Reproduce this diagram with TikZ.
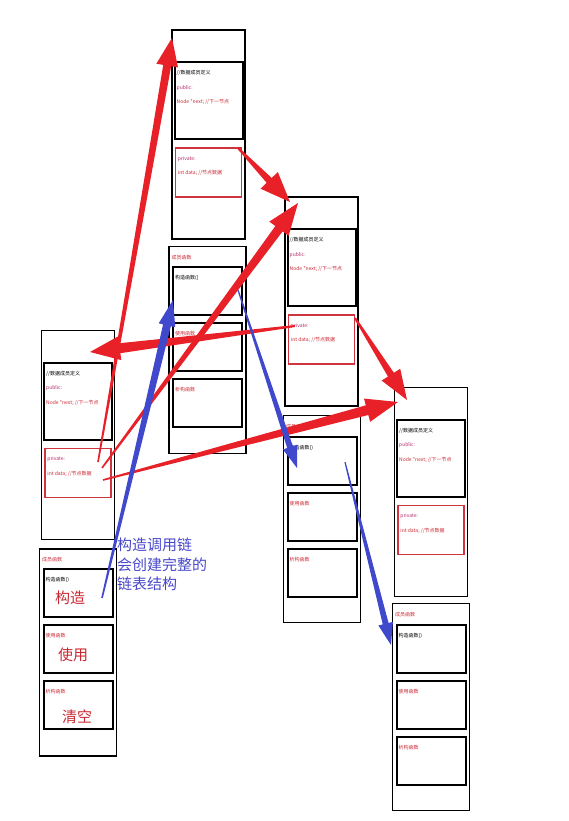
\documentclass[tikz,border=0pt]{standalone}
\usepackage{fontspec}
\setmainfont{Noto Sans CJK SC}
\usetikzlibrary{calc,positioning}
\definecolor{arrred}{RGB}{232,32,40}
\definecolor{boxred}{RGB}{208,52,62}
\definecolor{pubred}{RGB}{180,40,110}
\definecolor{txtred}{RGB}{200,40,50}
\definecolor{arrblue}{RGB}{64,72,204}
\definecolor{noteblue}{RGB}{72,72,200}
\tikzset{
  objbox/.style={rectangle, draw=black, line width=1.3pt,
    minimum width=73pt, minimum height=209pt, inner sep=0pt},
  databox/.style={rectangle, draw=black, line width=2pt,
    minimum width=68pt, minimum height=77pt, inner sep=0pt},
  privbox/.style={rectangle, draw=boxred, line width=1.5pt,
    minimum width=66pt, minimum height=49pt, inner sep=0pt},
  funbox/.style={rectangle, draw=black, line width=1.3pt,
    minimum width=77pt, minimum height=207pt, inner sep=0pt},
  fnbox/.style={rectangle, draw=black, line width=2pt,
    minimum width=69pt, minimum height=48pt, inner sep=0pt},
  tinytxt/.style={anchor=north west, inner sep=0pt, align=left,
    font=\fontsize{5}{14.5}\selectfont, xshift=3pt, yshift=-9pt},
  bigred/.style={text=txtred, inner sep=0pt, font=\fontsize{15}{18}\selectfont},
}
% tapered arrow: colour, from, to, start half width, end half width, head length, head half width
\newcommand{\tarrow}[7]{%
  \coordinate (hb) at ($(#3)!#6!(#2)$);
  \fill[#1] ($(#2)!#4!90:(#3)$) -- ($(hb)!#5!90:(#3)$) -- ($(hb)!#7!90:(#3)$) -- (#3)
    -- ($(hb)!#7!-90:(#3)$) -- ($(hb)!#5!-90:(#3)$) -- ($(#2)!#4!-90:(#3)$) -- cycle;
}
\newcommand{\pubtext}{//数据成员定义\\{\color{pubred}public:}\\{\color{txtred}Node *next; //下一节点}}
\newcommand{\privtext}{{\color{pubred}private:}\\{\color{txtred}int data; //节点数据}}

\begin{document}
\begin{tikzpicture}[x=1pt, y=-1pt]
  \useasboundingbox (0,0) rectangle (569,821);

  % objects
  \node[objbox] (objA) at (208.5,134.5) {};
    \node[databox, below=32pt of objA.north, label={[tinytxt]north west:{\pubtext}}] (pubA) {};
    \node[privbox, below=7pt of pubA, label={[tinytxt]north west:{\privtext}}] (priA) {};
  \node[objbox] (objB) at (78,435) {};
    \node[databox, below=32pt of objB.north, label={[tinytxt]north west:{\pubtext}}] (pubB) {};
    \node[privbox, below=7pt of pubB, label={[tinytxt]north west:{\privtext}}] (priB) {};
  \node[objbox] (objC) at (321.5,301.5) {};
    \node[databox, below=32pt of objC.north, label={[tinytxt]north west:{\pubtext}}] (pubC) {};
    \node[privbox, below=7pt of pubC, label={[tinytxt]north west:{\privtext}}] (priC) {};
  \node[objbox] (objD) at (431,492) {};
    \node[databox, below=32pt of objD.north, label={[tinytxt]north west:{\pubtext}}] (pubD) {};
    \node[privbox, below=7pt of pubD, label={[tinytxt]north west:{\privtext}}] (priD) {};

  % member functions
  \node[funbox, label={[tinytxt, text=txtred]north west:成员函数}] (fnA) at (207.5,350) {};
    \node[fnbox, below=20pt of fnA.north, label={[tinytxt]north west:构造函数()}] (fnA1) {};
    \node[fnbox, below=6pt of fnA1, label={[tinytxt, text=txtred]north west:使用函数}] (fnA2) {};
    \node[fnbox, below=6pt of fnA2, label={[tinytxt, text=txtred]north west:析构函数}] (fnA3) {};
  \node[funbox, label={[tinytxt, text=txtred]north west:成员函数}] (fnB) at (78,652.5) {};
    \node[fnbox, below=20pt of fnB.north, label={[tinytxt]north west:构造函数()}] (fnB1) {};
    \node[fnbox, below=6pt of fnB1, label={[tinytxt, text=txtred]north west:使用函数}] (fnB2) {};
    \node[fnbox, below=6pt of fnB2, label={[tinytxt, text=txtred]north west:析构函数}] (fnB3) {};
  \node[funbox, label={[tinytxt, text=txtred]north west:成员函数}] (fnC) at (322,519) {};
    \node[fnbox, below=21pt of fnC.north, label={[tinytxt]north west:构造函数()}] (fnC1) {};
    \node[fnbox, below=6pt of fnC1, label={[tinytxt, text=txtred]north west:使用函数}] (fnC2) {};
    \node[fnbox, below=6pt of fnC2, label={[tinytxt, text=txtred]north west:析构函数}] (fnC3) {};
  \node[funbox, label={[tinytxt, text=txtred]north west:成员函数}] (fnD) at (431,707) {};
    \node[fnbox, below=21pt of fnD.north, label={[tinytxt]north west:构造函数()}] (fnD1) {};
    \node[fnbox, below=6pt of fnD1, label={[tinytxt, text=txtred]north west:使用函数}] (fnD2) {};
    \node[fnbox, below=6pt of fnD2, label={[tinytxt, text=txtred]north west:析构函数}] (fnD3) {};

  \node[bigred] (callB1) at (70,598) {构造};
  \node[bigred] (callB2) at (73,655) {使用};
  \node[bigred] (callB3) at (77,717) {清空};
  \node[anchor=north west, text=noteblue, align=left, inner sep=0pt,
    font=\fontsize{15}{19.5}\selectfont] (note) at (117,538) {构造调用链\\会创建完整的\\链表结构};

  % arrow ends
  \coordinate (sB1) at (98,462);   \coordinate (tA)  at (172,38);
  \coordinate (sA)  at (238,148);  \coordinate (tC1) at (290,202);
  \coordinate (sB2) at (102,468);  \coordinate (tC2) at (298,203);
  \coordinate (sC1) at (295,326);  \coordinate (tB)  at (90,352);
  \coordinate (sC2) at (355,318);  \coordinate (tD1) at (407,400);
  \coordinate (sB3) at (103,480);  \coordinate (tD2) at (398,402);
  \coordinate (sfB) at (102,598);  \coordinate (tfA) at (173,300);
  \coordinate (sfA) at (238,290);  \coordinate (tfC) at (297,468);
  \coordinate (sfC) at (345,462);  \coordinate (tfD) at (391,645);

  \tarrow{arrred}{sB1}{tA}{0.8pt}{4pt}{28pt}{11pt}
  \tarrow{arrred}{sA}{tC1}{1pt}{3.5pt}{30pt}{12pt}
  \tarrow{arrred}{sB2}{tC2}{0.8pt}{4.5pt}{32pt}{12pt}
  \tarrow{arrred}{sC1}{tB}{1pt}{5pt}{30pt}{12pt}
  \tarrow{arrred}{sC2}{tD1}{1pt}{3.5pt}{30pt}{11pt}
  \tarrow{arrred}{sB3}{tD2}{0.8pt}{5pt}{32pt}{12pt}

  \tarrow{arrblue}{sfB}{tfA}{0.8pt}{4pt}{26pt}{8.5pt}
  \tarrow{arrblue}{sfA}{tfC}{0.6pt}{3pt}{22pt}{7.5pt}
  \tarrow{arrblue}{sfC}{tfD}{0.6pt}{3pt}{22pt}{7.5pt}
\end{tikzpicture}
\end{document}
